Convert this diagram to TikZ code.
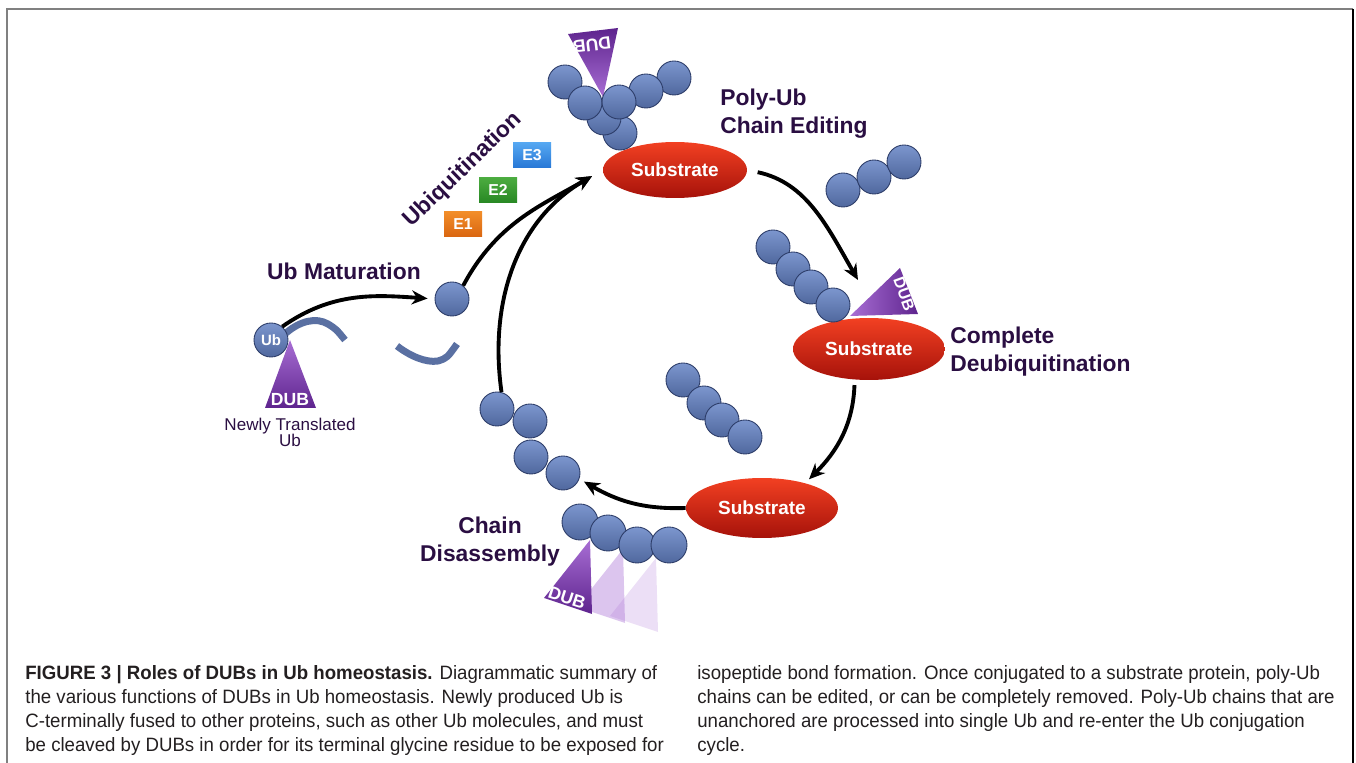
\documentclass[tikz,border=0pt]{standalone}
\usepackage{fontspec}
\setmainfont{Liberation Sans}
\newfontfamily\capfont[FakeStretch=0.965]{Liberation Sans}
\usepackage{tikz}
\usetikzlibrary{positioning,shapes.geometric,arrows.meta}
\definecolor{labc}{RGB}{42,14,66}
\definecolor{capc}{RGB}{35,31,32}
\definecolor{ubtop}{RGB}{124,150,206}
\definecolor{ubbot}{RGB}{80,104,158}
\definecolor{ubline}{RGB}{44,60,104}
\definecolor{subtop}{RGB}{242,64,34}
\definecolor{subbot}{RGB}{166,18,10}
\definecolor{dubtop}{RGB}{168,110,212}
\definecolor{dubbot}{RGB}{94,36,142}
\definecolor{tailc}{RGB}{90,112,162}
\definecolor{eonetop}{RGB}{242,142,42}
\definecolor{eonebot}{RGB}{218,102,16}
\definecolor{etwotop}{RGB}{76,172,64}
\definecolor{etwobot}{RGB}{40,136,36}
\definecolor{ethreetop}{RGB}{86,168,242}
\definecolor{ethreebot}{RGB}{40,120,214}

\begin{document}
\begin{tikzpicture}[x=0.02cm,y=-0.02cm]
\tikzstyle{ubc}=[circle,draw=ubline,line width=0.5pt,top color=ubtop,bottom color=ubbot,minimum size=0.68cm,inner sep=0pt];
\tikzstyle{sub}=[ellipse,top color=subtop,bottom color=subbot,text=white,font=\bfseries\fontsize{10.8}{12}\selectfont,inner sep=0pt];
\tikzstyle{lab}=[text=labc,font=\bfseries\fontsize{13}{15.9}\selectfont,inner sep=0pt];
\tikzstyle{enz}=[minimum width=0.76cm,minimum height=0.5cm,text=white,font=\bfseries\fontsize{9}{10}\selectfont,inner sep=0pt];
\tikzstyle{dubt}=[text=white,font=\bfseries\fontsize{10}{11}\selectfont,inner sep=0pt];
\tikzstyle{cyc}=[line width=2.2pt,-{Stealth[length=9pt,width=8pt]}];
\tikzstyle{tail}=[tailc,line width=0.14cm];
\tikzstyle{captxt}=[anchor=north west,inner sep=0pt,align=left,text=capc,font=\capfont\fontsize{11}{13.6}\selectfont];

\useasboundingbox (0,0) rectangle (1356,763);
\draw[gray,line width=1.2pt] (7,763) -- (7,9) -- (1353,9);
\draw[black,line width=1pt] (1353,9) -- (1353,763);

\begin{scope}
    % substrates on the cycle
    \node[sub,minimum width=2.88cm,minimum height=1.12cm] (subA) at (675,170) {Substrate};
    \node[sub,minimum width=3.04cm,minimum height=1.24cm] (subB) at (869,349) {Substrate};
    \node[sub,minimum width=3.04cm,minimum height=1.2cm] (subC) at (762,508) {Substrate};

    % DUB wedges
    \shade[top color=dubtop,bottom color=dubbot] (290,340) -- (316,408) -- (265,408) -- cycle;
    \shade[top color=dubbot,bottom color=dubtop] (568,34) -- (618,28) -- (603,97) -- cycle;
    \shade[left color=dubtop,right color=dubbot] (850,316) -- (900,268) -- (918,314) -- cycle;
    \foreach \dx/\dy/\op in {66/18/0.22,33/9/0.4}
        \fill[dubtop,fill opacity=\op] (544+\dx,598+\dy) -- (590+\dx,540+\dy) -- (592+\dx,614+\dy) -- cycle;
    \shade[top color=dubtop,bottom color=dubbot] (544,598) -- (590,540) -- (592,614) -- cycle;

    \node[dubt] (dubL) at (290,400) {DUB};
    \node[dubt,rotate=187] (dubA) at (592,45) {DUB};
    \node[dubt,font=\bfseries\fontsize{9}{10}\selectfont,rotate=-70] (dubB) at (904,294) {DUB};
    \node[dubt,rotate=-18] (dubC) at (567,598) {DUB};

    % tail of the newly made chain
    \draw[tail] (286,333) .. controls (300,321) and (316,317) .. (328,324) .. controls (336,329) .. (345,340);
    \draw[tail] (397,346) .. controls (410,356) and (426,363) .. (438,361) .. controls (447,358) .. (457,344);

    % Ub molecules
    \node[ubc,font=\bfseries\fontsize{8.5}{9}\selectfont,text=white] (ub) at (271,340) {Ub};
    \node[ubc] (ubfree) at (452,299) {};
    \foreach \x/\y in {620/133,604/118,565/82,585/103,674/78,646/91,619/102}
        \node[ubc] at (\x,\y) {};
    \foreach \x/\y in {843/190,874/177,904/162}
        \node[ubc] at (\x,\y) {};
    \foreach \x/\y in {773/247,793/269,811/287,833/305}
        \node[ubc] at (\x,\y) {};
    \foreach \x/\y in {683/380,704/403,722/420,745/437}
        \node[ubc] at (\x,\y) {};
    \foreach \x/\y [count=\i] in {497/409,530/421,531/457,563/473}
        \node[ubc] (ch\i) at (\x,\y) {};
    \foreach \x/\y in {580/522,608/533,637/545,669/545}
        \node[ubc,minimum size=0.72cm] at (\x,\y) {};

    % E1-E3
    \node[enz,top color=eonetop,bottom color=eonebot] (e1) at (463,224) {E1};
    \node[enz,top color=etwotop,bottom color=etwobot] (e2) at (498,190) {E2};
    \node[enz,top color=ethreetop,bottom color=ethreebot] (e3) at (532,155) {E3};

    % labels
    \node[lab] (lmat) at (344,271) {Ub Maturation};
    \node[lab,rotate=44] (lubi) at (463,170) {Ubiquitination};
    \node[lab,anchor=west,align=left] (ledit) at (720,114) {Poly-Ub\\Chain Editing};
    \node[lab,anchor=west,align=left] (ldeub) at (950,352) {Complete\\Deubiquitination};
    \node[lab,align=center] (ldis) at (490,542) {Chain\\Disassembly};
    \node[text=labc,align=center,inner sep=0pt,font=\fontsize{9.7}{9.2}\selectfont] (lnew) at (290,432) {Newly Translated\\Ub};

    % the cycle
    \coordinate (tipB) at (858,280);
    \draw[cyc,shorten >=4pt] (ub.50) to[out=35,in=176] (ubfree.west);
    \draw[cyc,shorten >=7pt] (ubfree.50) to[out=62,in=210] (subA.west);
    \draw[cyc,shorten >=7pt] (ch1.75) to[out=98,in=210] (subA.west);
    \draw[cyc,shorten <=6pt] (subA.east) to[out=-12,in=120] (tipB);
    \draw[cyc,shorten <=3pt,shorten >=3pt] (subB.-115) to[out=-92,in=45] (subC.30);
    \draw[cyc,shorten >=3pt] (subC.west) to[out=182,in=-30] (ch4.-20);
\end{scope}

% caption
\node[captxt] (capL) at (25,665) {{\bfseries FIGURE 3 | Roles of DUBs in Ub homeostasis.} Diagrammatic summary of\\
the various functions of DUBs in Ub homeostasis. Newly produced Ub is\\
C-terminally fused to other proteins, such as other Ub molecules, and must\\
be cleaved by DUBs in order for its terminal glycine residue to be exposed for};
\node[captxt] (capR) at (697,665) {isopeptide bond formation. Once conjugated to a substrate protein, poly-Ub\\
chains can be edited, or can be completely removed. Poly-Ub chains that are\\
unanchored are processed into single Ub and re-enter the Ub conjugation\\
cycle.};

\end{tikzpicture}
\end{document}
